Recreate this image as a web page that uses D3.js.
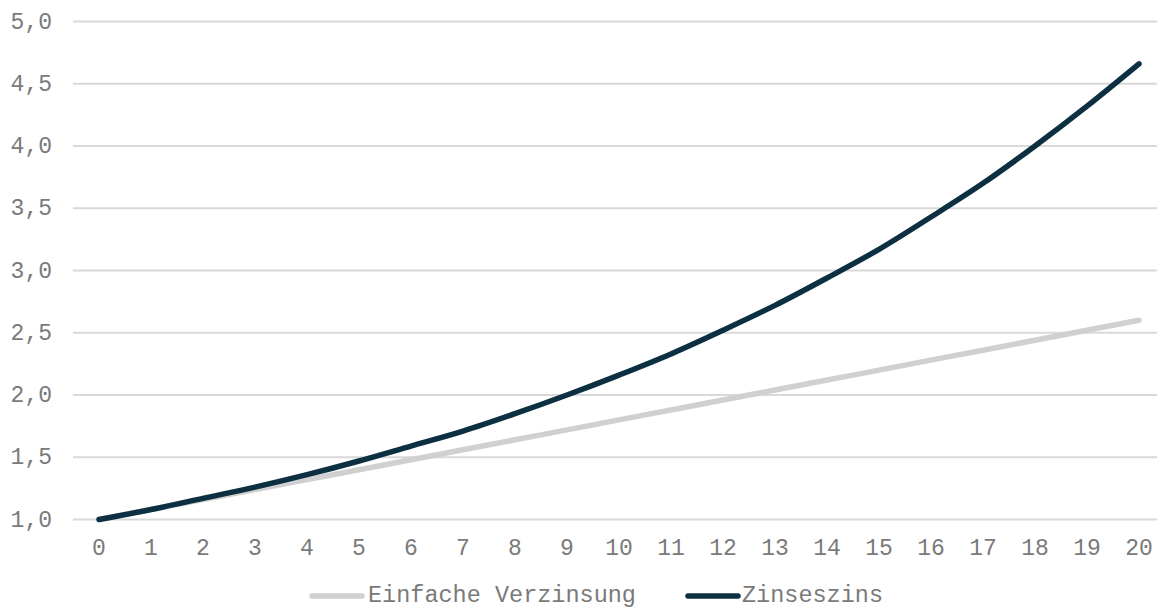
<!DOCTYPE html>
<html><head><meta charset="utf-8">
<script src="https://cdn.jsdelivr.net/npm/d3@7"></script>
<style>body{margin:0;background:#fff}svg{display:block}</style>
</head><body>
<svg id="c" width="1157" height="609"></svg>
<script>
const years = [0,1,2,3,4,5,6,7,8,9,10,11,12,13,14,15,16,17,18,19,20];
const einfach = [1.00,1.08,1.16,1.24,1.32,1.40,1.48,1.56,1.64,1.72,1.80,1.88,1.96,2.04,2.12,2.20,2.28,2.36,2.44,2.52,2.60];
const zinseszins = [1.00,1.08,1.17,1.26,1.36,1.47,1.59,1.71,1.85,2.00,2.16,2.33,2.52,2.72,2.94,3.17,3.43,3.70,4.00,4.32,4.66];
const yTicks = [1.0,1.5,2.0,2.5,3.0,3.5,4.0,4.5,5.0];
const seriesNames = ["Einfache Verzinsung","Zinseszins"];
const colors = ["#d0d0d0","#0c3042"];

const svg = d3.select("#c");
const font = "'Liberation Mono','Courier New',monospace";
const textCol = "#7a7a7a";
const x = d3.scalePoint().domain(years).range([99,1139]);
const y = d3.scaleLinear().domain([1,5]).range([519.5,21.5]);

svg.append("g").selectAll("line").data(yTicks).join("line")
  .attr("x1",73).attr("x2",1157).attr("y1",d=>y(d)).attr("y2",d=>y(d))
  .attr("stroke","#d9d9d9").attr("stroke-width",2);

svg.append("g").selectAll("text").data(yTicks).join("text")
  .attr("x",52).attr("y",d=>y(d)-1).attr("dy","0.35em").attr("text-anchor","end")
  .attr("font-family",font).attr("font-size",23).attr("fill",textCol)
  .text(d=>d3.format(".1f")(d).replace(".",","));

svg.append("g").selectAll("text").data(years).join("text")
  .attr("x",d=>x(d)).attr("y",547).attr("dy","0.35em").attr("text-anchor","middle")
  .attr("font-family",font).attr("font-size",23).attr("fill",textCol)
  .text(d=>d);

const line = d3.line().x((d,i)=>x(years[i])).y(d=>y(d)).curve(d3.curveMonotoneX);
[einfach,zinseszins].forEach((s,i)=>{
  svg.append("path").attr("d",line(s)).attr("fill","none")
    .attr("stroke",colors[i]).attr("stroke-width",5.5)
    .attr("stroke-linecap","round").attr("stroke-linejoin","round");
});

const leg = [{x:312,tx:368},{x:688,tx:742}];
seriesNames.forEach((n,i)=>{
  svg.append("line").attr("x1",leg[i].x).attr("x2",leg[i].x+50).attr("y1",596).attr("y2",596)
    .attr("stroke",colors[i]).attr("stroke-width",5.5).attr("stroke-linecap","round");
  svg.append("text").attr("x",leg[i].tx).attr("y",601.5)
    .attr("font-family",font).attr("font-size",23.5).attr("fill",textCol).text(n);
});
</script>
</body></html>
